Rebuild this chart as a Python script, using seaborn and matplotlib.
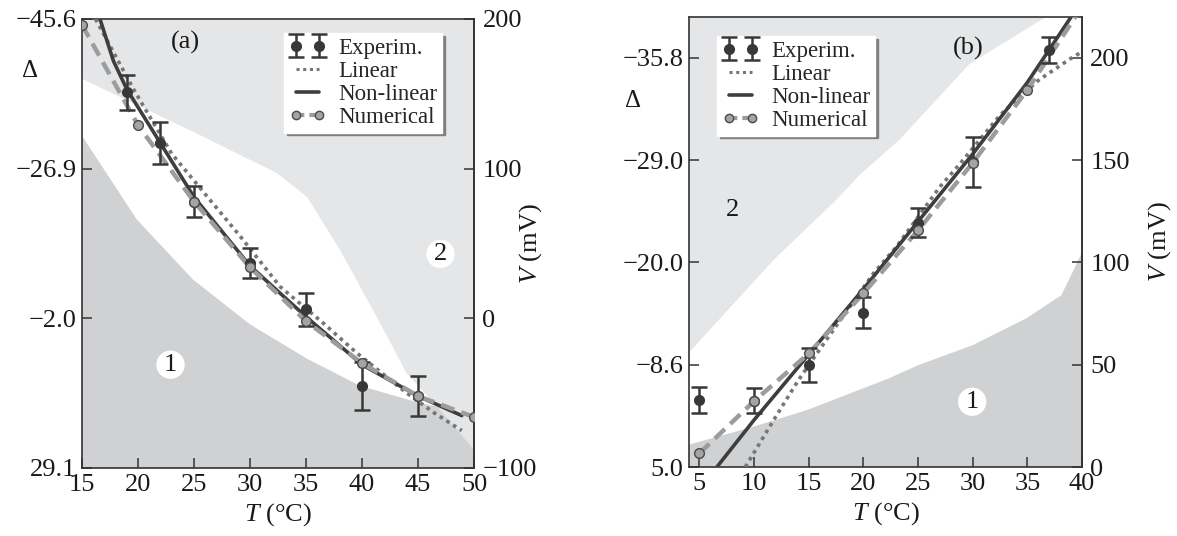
import numpy as np
import pandas as pd
import seaborn as sns
from matplotlib import pyplot as plt
from matplotlib.lines import Line2D

# ---------------- panel (a) ----------------
a_exp_t = [19, 22, 25, 30, 35, 40, 45]
a_exp_v = [151, 117, 78, 37, 6, -45, -52]
a_exp_err = [11.5, 14, 10.5, 10, 11, 16, 13.5]

a_num_t = [15, 20, 25, 30, 35, 40, 45, 50]
a_num_v = [196, 129, 78, 34, -2, -30, -52, -66]

a_lin_t = [16.2, 19.6, 23, 26.1, 29.1, 32.7, 36.5, 39.5, 44, 46.4, 48.9]
a_lin_v = [200, 153, 110, 82, 55, 21, -3, -23, -50, -63, -75]

a_nl_t = [16.6, 17.8, 19, 22, 25, 30, 35, 40, 45, 48.9]
a_nl_v = [200, 172, 153, 117, 81, 35, 1, -31, -52, -65]

# region boundaries (a)
a_r2_t = [15, 25.1, 32.4, 35.1, 38.0, 41.3, 44.0, 46.7]     # light / white
a_r2_v = [160, 124, 97, 81, 46, 1, -37, -59]
a_r1_t = [15, 19.9, 24.9, 30, 35.1, 39.8, 44.9, 46.7]       # white / dark
a_r1_v = [122, 66, 26, -4, -27, -45, -56, -59]
a_r12_t = [46.7, 50]                                        # light / dark
a_r12_v = [-59, -88]

a_vticks = [-100, 0, 100, 200]
a_vlabels = ["\u2212100", "0", "100", "200"]
a_dlabels = ["29.1", "\u22122.0", "\u221226.9", "\u221245.6"]
a_xticks = [15, 20, 25, 30, 35, 40, 45, 50]

# ---------------- panel (b) ----------------
b_exp_t = [5, 10, 15, 20, 25, 30, 37]
b_exp_v = [32.7, 32.4, 50, 75.5, 119.5, 149, 204]
b_exp_err = [6.5, 6.2, 8.3, 7.7, 7.2, 12.2, 6.4]

b_num_t = [5, 10, 15, 20, 25, 30, 35]
b_num_v = [6.7, 32.2, 55.5, 84.9, 115.7, 148.7, 184.4]
b_num_end_t = 40
b_num_end_v = 225

b_lin_t = [9.2, 11.8, 14.0, 16.2, 20.9, 23.0, 27.0, 28.8, 32.5, 33.7, 36.0, 38.9, 40]
b_lin_v = [0, 23, 42, 59, 94.5, 107.5, 137, 148, 172, 178, 189, 199.5, 203]

b_nl_t = [6.6, 10, 15, 20, 25, 30, 35, 39.0]
b_nl_v = [0, 23, 55, 87, 120, 153, 188, 220]

b_r2_t = [4.05, 11.75, 17.5, 19.7, 23.3, 29.7, 36.7]
b_r2_v = [56, 101, 130.5, 143, 160, 197, 220]
b_r1_t = [4.05, 9.9, 14.8, 22.3, 25, 30, 34.9, 38.1, 39.2, 40]
b_r1_v = [11, 19.7, 27.8, 43.3, 49.8, 59.6, 72.7, 84, 96, 105]

b_vticks = [0, 50, 100, 150, 200]
b_vlabels = ["0", "50", "100", "150", "200"]
b_dlabels = ["5.0", "\u22128.6", "\u221220.0", "\u221229.0", "\u221235.8"]
b_xticks = [5, 10, 15, 20, 25, 30, 35, 40]

sns.set_theme(style="ticks")
plt.rcParams['font.family'] = ['Liberation Serif', 'DejaVu Serif']
plt.rcParams['mathtext.fontset'] = 'custom'
plt.rcParams['mathtext.rm'] = 'Liberation Serif'
plt.rcParams['mathtext.it'] = 'Liberation Serif:italic'

LIGHT = '#e5e6e8'
DARK = '#d0d1d3'
INK = '#333333'
TXT = '#1a1a1a'
EXP_C = '#383838'
NL_C = '#3e3e3e'
LIN_C = '#767676'
NUM_C = '#9c9c9c'
LIN_LS = (0, (1, 1.2))
NUM_LS = (0, (3.1, 1.7))


def curves(ax, lin_t, lin_v, nl_t, nl_v, num_line_t, num_line_v, num_t, num_v,
           exp_t, exp_v, exp_err):
    sns.lineplot(x=lin_t, y=lin_v, ax=ax, color=LIN_C, lw=2.6, linestyle=LIN_LS,
                 sort=False, zorder=3)
    sns.lineplot(x=nl_t, y=nl_v, ax=ax, color=NL_C, lw=2.6, sort=False, zorder=4)
    sns.lineplot(x=num_line_t, y=num_line_v, ax=ax, color=NUM_C, lw=3.2,
                 linestyle=NUM_LS, sort=False, zorder=5)
    ax.errorbar(exp_t, exp_v, yerr=exp_err, fmt='o', ms=7, color=EXP_C,
                ecolor=EXP_C, elinewidth=1.8, capsize=6, capthick=1.8, zorder=6)
    ax.plot(num_t, num_v, 'o', ms=7, mfc='#a4a4a4', mec='#4a4a4a', mew=1.0,
            zorder=7)


def style(ax, xlim, ylim, xticks, vticks, vlabels, dlabels, dpos, vpos):
    ax.set_xlim(*xlim)
    ax.set_ylim(*ylim)
    ax.set_xticks(xticks)
    ax.set_yticks(vticks)
    ax.set_yticklabels(dlabels)
    ax.tick_params(direction='in', length=7, width=1.1, color=INK,
                   labelsize=19, pad=4, labelcolor=TXT)
    for s in ax.spines.values():
        s.set_color(INK)
        s.set_linewidth(1.2)
    sec = ax.secondary_yaxis('right')
    sec.set_yticks(vticks)
    sec.set_yticklabels(vlabels)
    sec.tick_params(direction='in', length=7, width=1.1, color=INK,
                    labelsize=19, pad=6, labelcolor=TXT)
    sec.spines['right'].set_color(INK)
    sec.spines['right'].set_linewidth(1.2)
    ax.text(vpos[0], vpos[1], '$V$ (mV)', transform=ax.transAxes, rotation=90,
            ha='center', va='center', fontsize=19, color=TXT)
    ax.set_ylabel('\u0394', rotation=0, fontsize=18, color=TXT)
    ax.yaxis.set_label_coords(*dpos)
    ax.set_xlabel('$T$ (\u00b0C)', fontsize=19, color=TXT, labelpad=4)


def circled(ax, x, y, s):
    ax.text(x, y, s, ha='center', va='center', fontsize=19, color=TXT,
            zorder=2, bbox=dict(boxstyle='circle,pad=0.12', fc='white', ec='none'))


def legend(ax, anchor):
    err_h = ax.containers[0]
    h_lin = Line2D([], [], color=LIN_C, lw=2.2, linestyle=LIN_LS)
    h_nl = Line2D([], [], color=NL_C, lw=2.6)
    h_num = Line2D([], [], color=NUM_C, lw=3, linestyle=(0, (2, 1.2)), marker='o',
                   ms=6, mfc='#a4a4a4', mec='#4a4a4a', mew=1.0)
    leg = ax.legend([err_h, h_lin, h_nl, h_num],
                    ['Experim.', 'Linear', 'Non-linear', 'Numerical'],
                    loc='upper left', bbox_to_anchor=anchor, borderaxespad=0,
                    numpoints=2, fontsize=16.5, handlelength=1.6, handletextpad=0.55,
                    borderpad=0.22, labelspacing=0.08, fancybox=False,
                    framealpha=1, edgecolor='white',
                    shadow={'facecolor': '#808080', 'edgecolor': '#808080',
                            'alpha': 1})
    leg.set_zorder(10)


fig = plt.figure(figsize=(11.77, 5.36), dpi=100)
ax_a = fig.add_axes([0.0697, 0.1269, 0.3331, 0.8377])
ax_b = fig.add_axes([0.5854, 0.1287, 0.3339, 0.8396])

# ---- panel (a) ----
ax_a.set_facecolor(LIGHT)
xmin, xmax, ymin, ymax = 15, 50, -100, 200
dark_x = a_r1_t + a_r12_t[1:] + [xmax, xmin]
dark_y = a_r1_v + a_r12_v[1:] + [ymin, ymin]
ax_a.fill(dark_x, dark_y, color=DARK, lw=0, zorder=0)
ax_a.fill(a_r2_t + a_r1_t[::-1], a_r2_v + a_r1_v[::-1], color='white', lw=0, zorder=0)
curves(ax_a, a_lin_t, a_lin_v, a_nl_t, a_nl_v, a_num_t, a_num_v, a_num_t, a_num_v,
       a_exp_t, a_exp_v, a_exp_err)
style(ax_a, (xmin, xmax), (ymin, ymax), a_xticks, a_vticks, a_vlabels, a_dlabels,
      (-0.133, 0.86), (1.143, 0.5))
circled(ax_a, 22.9, -31, '1')
circled(ax_a, 47.0, 43, '2')
ax_a.text(24.2, 184, '(a)', ha='center', va='center', fontsize=19, color=TXT)
legend(ax_a, (0.515, 0.969))

# ---- panel (b) ----
ax_b.set_facecolor(LIGHT)
xmin, xmax, ymin, ymax = 4.05, 40, 0, 220
ax_b.fill(b_r1_t + [xmax, xmin], b_r1_v + [ymin, ymin], color=DARK, lw=0, zorder=0)
ax_b.fill(b_r2_t + [xmax] + b_r1_t[::-1], b_r2_v + [ymax] + b_r1_v[::-1],
          color='white', lw=0, zorder=0)
curves(ax_b, b_lin_t, b_lin_v, b_nl_t, b_nl_v, b_num_t + [b_num_end_t],
       b_num_v + [b_num_end_v], b_num_t, b_num_v, b_exp_t, b_exp_v, b_exp_err)
style(ax_b, (xmin, xmax), (ymin, ymax), b_xticks, b_vticks, b_vlabels, b_dlabels,
      (-0.142, 0.789), (1.198, 0.5))
circled(ax_b, 29.95, 31.9, '1')
ax_b.text(8.0, 125.6, '2', ha='center', va='center', fontsize=19, color=TXT)
ax_b.text(29.6, 204.4, '(b)', ha='center', va='center', fontsize=19, color=TXT)
legend(ax_b, (0.0705, 0.958))

fig.savefig('out.png', dpi=100)
